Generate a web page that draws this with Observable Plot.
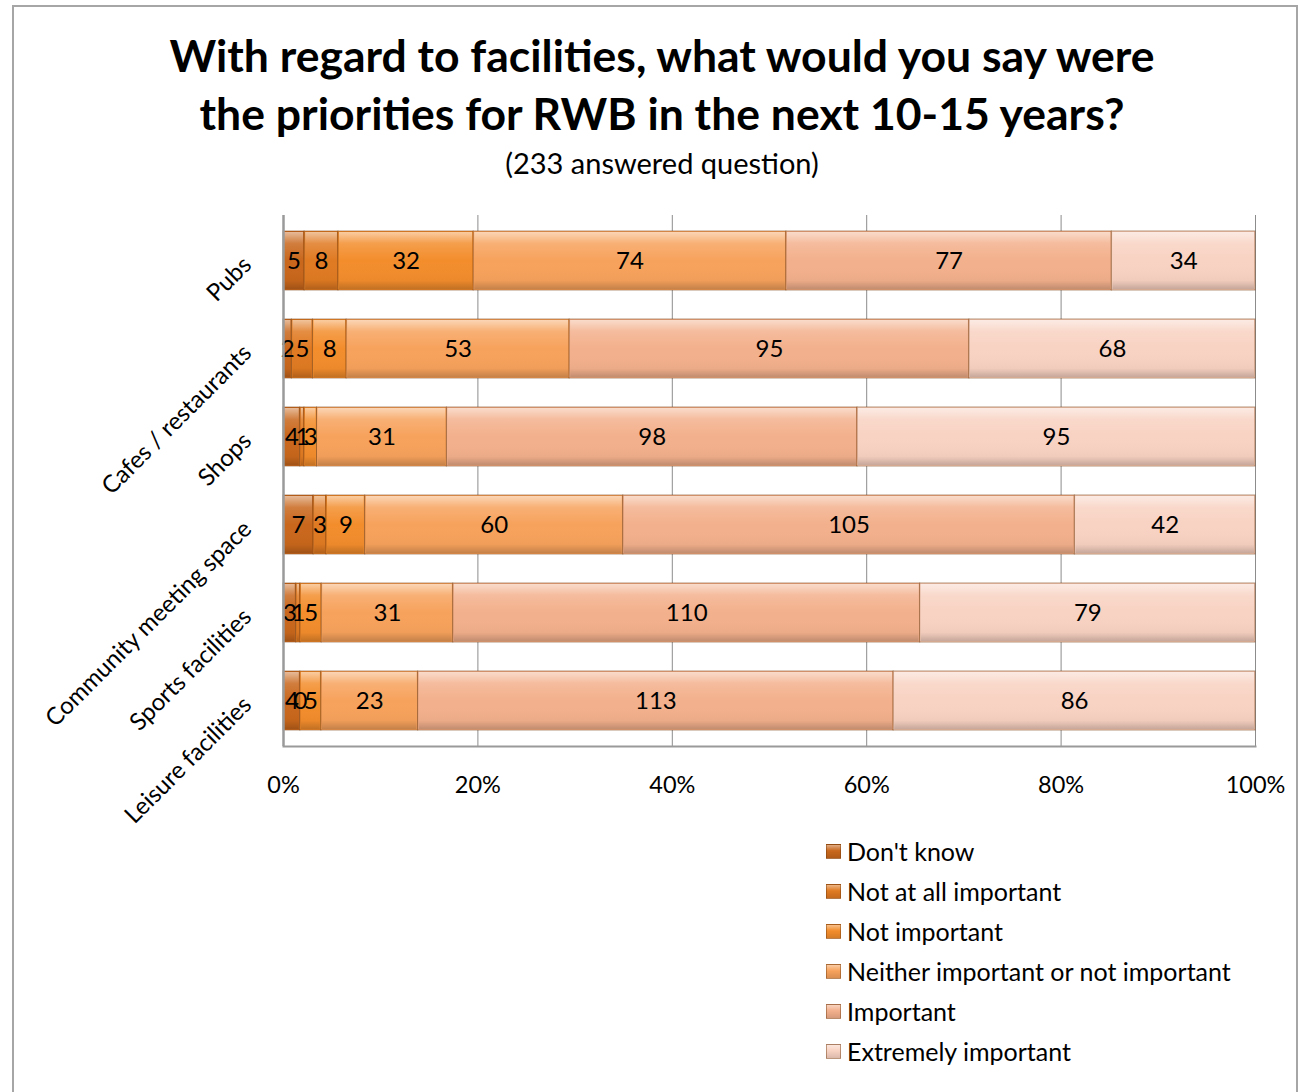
<!DOCTYPE html>
<html><head><meta charset="utf-8">
<script src="https://cdn.jsdelivr.net/npm/d3@7"></script>
<script src="https://cdn.jsdelivr.net/npm/@observablehq/plot@0.6"></script>
<style>
body{margin:0;background:#fff;font-family:Lato,"Open Sans",sans-serif;}
#wrap{position:relative;width:1299px;height:1092px;overflow:hidden;background:#fff;}
#border{position:absolute;left:12px;top:5px;width:1286px;height:1100px;border:2px solid #a6a6a6;box-sizing:border-box;}
.t{position:absolute;left:12px;width:1300px;text-align:center;color:#000;white-space:nowrap;line-height:1.2;}
#title1{top:28px;font-size:44.5px;font-weight:700;}
#title2{top:86px;font-size:44.5px;font-weight:700;}
#sub{top:146px;font-size:29px;}
#chart{position:absolute;left:0;top:0;}
#legend{position:absolute;left:826px;top:831px;}
.li{height:40px;display:flex;align-items:center;font-size:25px;}
.sw{width:15px;height:15px;margin-right:6px;box-sizing:border-box;border:1px solid rgba(110,55,10,0.45);}
</style>
</head><body>
<div id="wrap">
<div id="border"></div>
<div class="t" id="title1">With regard to facilities, what would you say were</div>
<div class="t" id="title2">the priorities for RWB in the next 10-15 years?</div>
<div class="t" id="sub">(233 answered question)</div>
<div id="chart"></div>
<div id="legend"></div>
</div>
<script>
const categories = ["Pubs", "Cafes / restaurants", "Shops", "Community meeting space", "Sports facilities", "Leisure facilities"];
const seriesNames = ["Don't know", "Not at all important", "Not important", "Neither important or not important", "Important", "Extremely important"];
const dontKnow = [5, 2, 4, 7, 3, 4];
const notAtAllImportant = [8, 5, 1, 3, 1, 0];
const notImportant = [32, 8, 3, 9, 5, 5];
const neither = [74, 53, 31, 60, 31, 23];
const important = [77, 95, 98, 105, 110, 113];
const extremelyImportant = [34, 68, 95, 42, 79, 86];
const xTicks = [0, 0.2, 0.4, 0.6, 0.8, 1];
const colors = ["#c9671c", "#e07a22", "#f38d2c", "#f7a25c", "#f3b08c", "#f8d2c2"];

const seriesValues = [dontKnow, notAtAllImportant, notImportant, neither, important, extremelyImportant];
const data = [];
seriesNames.forEach((s, i) => categories.forEach((c, j) => data.push({cat: c, series: s, value: seriesValues[i][j]})));

const plot = Plot.plot({
  width: 1299, height: 830,
  marginTop: 215, marginLeft: 283, marginRight: 44, marginBottom: 84,
  style: {fontFamily: "Lato, 'Open Sans', sans-serif", fontSize: "24px", background: "transparent", color: "#000", overflow: "visible"},
  x: {domain: [0, 1], ticks: xTicks, tickFormat: d3.format(".0%"), label: null},
  y: {domain: categories, paddingInner: 0.333, paddingOuter: 0.18, label: null},
  color: {domain: seriesNames, range: colors},
  marks: [
    Plot.gridX(xTicks, {stroke: "#8c8c8c", strokeOpacity: 1, strokeWidth: 1}),
    Plot.barX(data, Plot.stackX({offset: "normalize", x: "value", y: "cat", fill: "series", z: "series", stroke: "#7a3f10", strokeOpacity: 0.55, strokeWidth: 1})),
    Plot.barX(data, Plot.stackX({offset: "normalize", x: "value", y: "cat", z: "series", fill: "white", inset: 1})),
    Plot.text(data, Plot.stackX({offset: "normalize", x: "value", y: "cat", z: "series", text: "value", fill: "black", fontSize: 24})),
    Plot.ruleX([0], {stroke: "#9a9a9a", strokeWidth: 2.5}),
    Plot.frame({anchor: "bottom", stroke: "#9a9a9a", strokeWidth: 2}),
    Plot.axisX(xTicks, {tickSize: 0, tickPadding: 30, fontSize: 23.5, tickFormat: d3.format(".0%"), label: null}),
    Plot.axisY({tickSize: 0, tickPadding: 36, tickRotate: -45, fontSize: 24, label: null})
  ]
});

// bevel gradient overlay
const svgNS = "http://www.w3.org/2000/svg";
const defs = document.createElementNS(svgNS, "defs");
defs.innerHTML = `<linearGradient id="bevel" x1="0" y1="0" x2="0" y2="1">
  <stop offset="0" stop-color="#fff" stop-opacity="0.55"/>
  <stop offset="0.2" stop-color="#fff" stop-opacity="0.15"/>
  <stop offset="0.5" stop-color="#fff" stop-opacity="0"/>
  <stop offset="0.85" stop-color="#000" stop-opacity="0.03"/>
  <stop offset="1" stop-color="#000" stop-opacity="0.2"/>
</linearGradient>`;
plot.insertBefore(defs, plot.firstChild);
const barGroups = plot.querySelectorAll("g[aria-label='bar']");
if (barGroups.length > 1) {
  barGroups[1].setAttribute("fill", "url(#bevel)");
  barGroups[1].querySelectorAll("rect").forEach(r => r.setAttribute("fill", "url(#bevel)"));
}
document.getElementById("chart").appendChild(plot);

// legend
const legend = document.getElementById("legend");
seriesNames.forEach((s, i) => {
  const row = document.createElement("div");
  row.className = "li";
  const sw = document.createElement("div");
  sw.className = "sw";
  sw.style.background = `linear-gradient(to bottom, rgba(255,255,255,0.45), rgba(255,255,255,0) 45%, rgba(0,0,0,0.12)), ${colors[i]}`;
  const lab = document.createElement("span");
  lab.textContent = s;
  row.appendChild(sw); row.appendChild(lab);
  legend.appendChild(row);
});
</script>
</body></html>
